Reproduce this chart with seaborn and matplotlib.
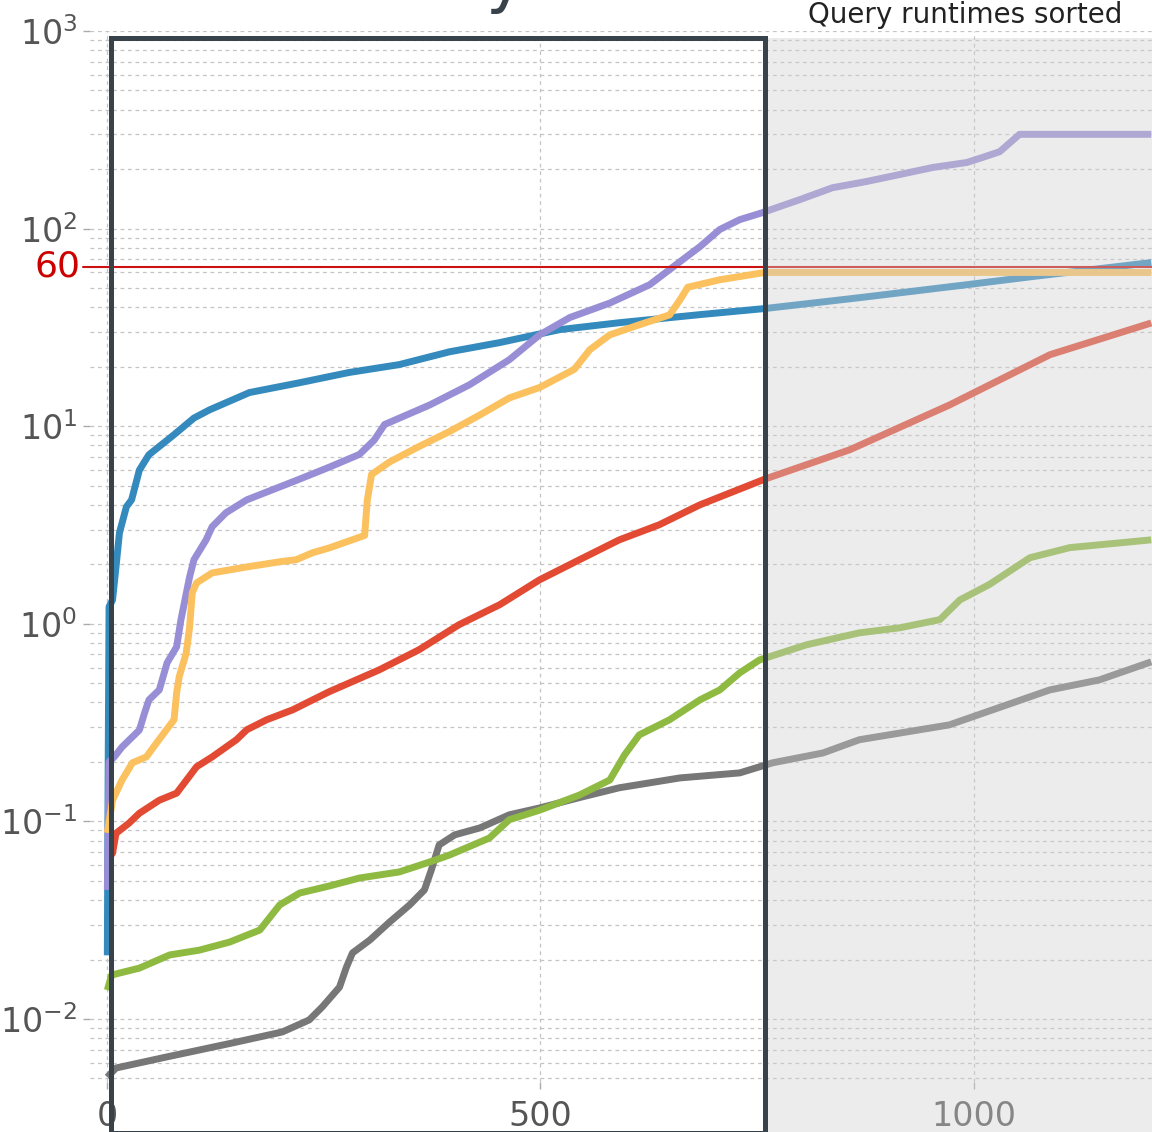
import numpy as np
import pandas as pd
import matplotlib
matplotlib.use("Agg")
import matplotlib.pyplot as plt
import seaborn as sns
from matplotlib.patches import Rectangle
from matplotlib.ticker import LogLocator, NullFormatter, FixedLocator

# ---------------- data (sorted query runtimes, seconds) ----------------
blue_x = [0, 1, 2, 6, 10, 14, 22, 28, 37, 48, 77, 100, 118, 164, 222, 279, 337, 395,
          453, 522, 591, 684, 759, 868, 992, 1068, 1205]
blue_y = [0.021, 0.2, 1.22, 1.32, 1.94, 2.89, 3.91, 4.24, 6.0, 7.17, 9.06, 11.0, 12.1,
          14.8, 16.6, 18.7, 20.5, 23.8, 26.5, 30.8, 33.4, 36.7, 39.4, 44.7, 52, 57.2, 67.3]

purple_x = [0, 2, 8, 17, 37, 43, 48, 60, 69, 80, 85, 95, 100, 114, 121, 137, 161, 222,
            256, 291, 308, 320, 372, 418, 464, 499, 534, 580, 626, 661, 684, 707, 730,
            755, 799, 837, 876, 915, 953, 992, 1010, 1030, 1053, 1205]
purple_y = [0.045, 0.2, 0.212, 0.238, 0.29, 0.354, 0.412, 0.463, 0.635, 0.765, 1.05,
            1.73, 2.11, 2.66, 3.1, 3.65, 4.24, 5.4, 6.2, 7.2, 8.5, 10.2, 12.8, 16.2, 21.7,
            29, 35.5, 42, 52, 68, 81, 99, 111, 120, 140, 161, 173, 188, 204, 216, 229,
            245, 300, 300]

yellow_x = [0, 6, 17, 29, 45, 57, 68, 77, 80, 83, 91, 95, 98, 103, 121, 161, 199, 218,
            237, 256, 297, 300, 305, 326, 360, 395, 430, 464, 499, 539, 557, 580, 614,
            649, 661, 670, 707, 759, 1205]
yellow_y = [0.0875, 0.128, 0.162, 0.198, 0.212, 0.25, 0.29, 0.327, 0.447, 0.54, 0.71,
            0.965, 1.435, 1.61, 1.81, 1.94, 2.06, 2.11, 2.29, 2.42, 2.8, 4.2, 5.7, 6.6,
            7.9, 9.4, 11.4, 13.9, 15.7, 19.4, 24.4, 29, 32.6, 36.6, 43.6, 50.5, 55.1, 60, 60]

red_x = [0, 6, 10, 25, 37, 60, 80, 103, 121, 149, 161, 184, 214, 237, 256, 314, 360,
         406, 453, 499, 545, 591, 637, 684, 759, 857, 972, 1088, 1205]
red_y = [0.064, 0.069, 0.087, 0.098, 0.110, 0.128, 0.139, 0.189, 0.212, 0.259, 0.291,
         0.327, 0.367, 0.412, 0.453, 0.585, 0.74, 0.99, 1.25, 1.67, 2.11, 2.66, 3.17,
         4.0, 5.4, 7.6, 12.8, 23, 33.3]

green_x = [0, 5, 37, 72, 106, 141, 176, 199, 222, 256, 291, 337, 372, 395, 441, 464,
           499, 545, 580, 597, 614, 649, 684, 707, 730, 753, 807, 868, 915, 961, 984,
           1018, 1065, 1111, 1157, 1205]
green_y = [0.0140, 0.0167, 0.0181, 0.0211, 0.0223, 0.0245, 0.0282, 0.0378, 0.0434,
           0.0471, 0.0517, 0.0555, 0.0623, 0.0676, 0.0824, 0.102, 0.114, 0.136, 0.162,
           0.217, 0.274, 0.327, 0.412, 0.463, 0.565, 0.657, 0.783, 0.900, 0.955, 1.05,
           1.32, 1.58, 2.16, 2.43, 2.54, 2.66]

gray_x = [0, 10, 68, 144, 202, 233, 248, 268, 276, 283, 303, 326, 349, 366, 374, 383,
          401, 430, 464, 499, 545, 591, 661, 730, 768, 826, 868, 972, 1088, 1145, 1205]
gray_y = [0.00508, 0.00565, 0.00642, 0.00756, 0.00860, 0.00989, 0.0115, 0.0145, 0.0183,
          0.0216, 0.0251, 0.031, 0.0378, 0.045, 0.0568, 0.076, 0.0855, 0.0927, 0.108,
          0.117, 0.132, 0.148, 0.166, 0.176, 0.198, 0.222, 0.259, 0.308, 0.463, 0.52, 0.642]

timeout_value = 64
timeout_label = "60"
title_text = "Query runtimes sorted"
x_ticks = [0, 500, 1000]

series = [
    ("red", red_x, red_y, "#E24A33"),
    ("blue", blue_x, blue_y, "#348ABD"),
    ("purple", purple_x, purple_y, "#988ED5"),
    ("gray", gray_x, gray_y, "#777777"),
    ("yellow", yellow_x, yellow_y, "#FBC15E"),
    ("green", green_x, green_y, "#8EBA42"),
]

# ---------------- figure ----------------
sns.set_style("white")
plt.rcParams['font.family'] = ['DejaVu Sans']
plt.rcParams['axes.unicode_minus'] = False

W, H = 1152, 1132
fig = plt.figure(figsize=(W / 100, H / 100), dpi=100)
fig.patch.set_facecolor("white")

ax_left, ax_right, ax_top, ax_bottom = 90, 1840, 31, 1082
ax = fig.add_axes([ax_left / W, 1 - ax_bottom / H, (ax_right - ax_left) / W,
                   (ax_bottom - ax_top) / H])
ax.set_facecolor("white")
for s in ax.spines.values():
    s.set_visible(False)

for name, xs, ys, col in series:
    df = pd.DataFrame({"x": xs, "y": ys})
    sns.lineplot(data=df, x="x", y="y", ax=ax, color=col, lw=5, estimator=None,
                 sort=False, solid_capstyle="butt")

ax.set_yscale("log")
ax.set_xlim(-20, 2000)
ax.set_ylim(4.8e-3, 1000)
ax.set_xlabel("")
ax.set_ylabel("")

ax.yaxis.set_major_locator(LogLocator(base=10, numticks=20))
ax.yaxis.set_minor_locator(LogLocator(base=10, subs=np.arange(2, 10), numticks=40))
ax.yaxis.set_minor_formatter(NullFormatter())
ax.xaxis.set_major_locator(FixedLocator(x_ticks))

grid_kw = dict(color="#c4c4c4", lw=0.9, ls=(0, (3, 3)))
ax.grid(True, which="both", axis="y", **grid_kw)
ax.grid(True, which="major", axis="x", **grid_kw)
ax.set_axisbelow(True)

ax.tick_params(axis="y", which="major", direction="out", length=5, width=1,
               color="#aaaaaa", labelsize=24, labelcolor="#555555", pad=4, left=True)
ax.tick_params(axis="y", which="minor", length=0)
ax.tick_params(axis="x", which="major", direction="out", length=5, width=1,
               color="#aaaaaa", labelsize=24, labelcolor="#555555", pad=8, bottom=True)

ax.set_title(title_text, fontsize=20, color="#222222", pad=6)

# timeout line + label
ax.axhline(timeout_value, xmin=-0.004, xmax=1, color="#cc1111", lw=1.5,
           clip_on=False, zorder=5)
ax.text(-0.0057, timeout_value, timeout_label, transform=ax.get_yaxis_transform(),
        ha="right", va="center", color="#cc0000", fontsize=26)

# grey overlay (de-emphasised region) and highlight box, figure-level
fig.add_artist(Rectangle((764 / W, 0), (W - 764) / W + 0.01, (H - 38) / H,
                         transform=fig.transFigure, facecolor="#d0d0d0", alpha=0.4,
                         edgecolor="none", zorder=3))
fig.add_artist(Rectangle((111 / W, 1 - 1133 / H), (764.5 - 111) / W, (1133 - 37.5) / H,
                         transform=fig.transFigure, fill=False, edgecolor="#37424a",
                         lw=3.6, zorder=4))

# slide title, mostly cut off above the image
fig.text(485 / W, 1.0, "y", ha="left", va="baseline", fontsize=48, color="#37424a")

fig.savefig("out.png", dpi=100, facecolor="white")
